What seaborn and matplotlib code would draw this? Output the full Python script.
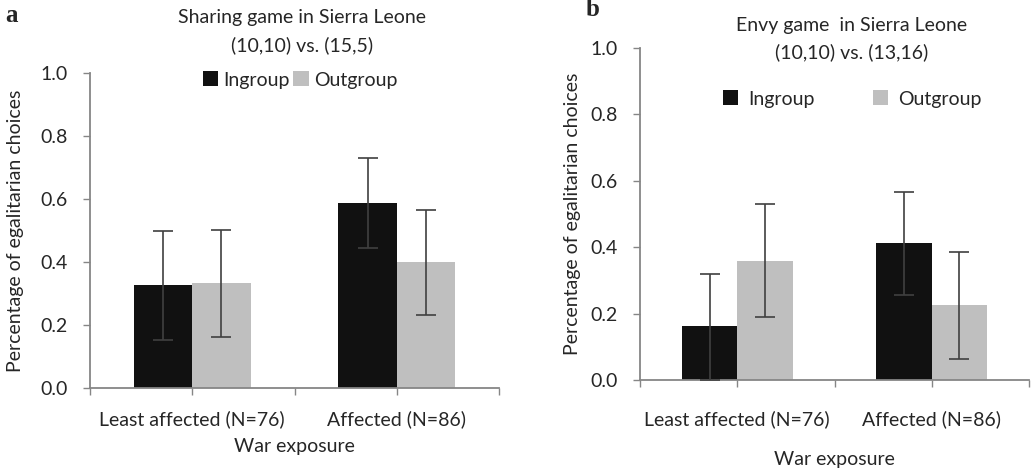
import matplotlib
matplotlib.use("Agg")
import matplotlib.pyplot as plt
import seaborn as sns
import pandas as pd
import numpy as np
from matplotlib.patches import Patch

sns.set_style("white")
plt.rcParams['font.family'] = ['Lato', 'DejaVu Sans']

categories = ["Least affected (N=76)", "Affected (N=86)"]
groups = ["Ingroup", "Outgroup"]

# Panel a: Sharing game
share_in = [0.326, 0.586]
share_out = [0.333, 0.400]
share_in_lo = [0.151, 0.444]
share_in_hi = [0.499, 0.730]
share_out_lo = [0.162, 0.233]
share_out_hi = [0.502, 0.565]

# Panel b: Envy game
envy_in = [0.163, 0.412]
envy_out = [0.359, 0.226]
envy_in_lo = [0.0, 0.257]
envy_in_hi = [0.320, 0.566]
envy_out_lo = [0.190, 0.062]
envy_out_hi = [0.529, 0.385]

yticks = [0.0, 0.2, 0.4, 0.6, 0.8, 1.0]
ytick_labels = ["0.0", "0.2", "0.4", "0.6", "0.8", "1.0"]

BLACK = "#111111"
GRAY = "#bfbfbf"
SPINE = "#868686"
ERR = "#404040"
FS = 14

W, H = 1033, 472
fig = plt.figure(figsize=(W / 100, H / 100), dpi=100)


def px_axes(left, top, right, bottom):
    return fig.add_axes([left / W, 1 - bottom / H, (right - left) / W, (bottom - top) / H])


def panel(ax, vin, vout, in_lo, in_hi, out_lo, out_hi, xpad):
    df = pd.DataFrame({
        "cat": categories * 2,
        "grp": [groups[0]] * 2 + [groups[1]] * 2,
        "val": list(vin) + list(vout),
    })
    sns.barplot(data=df, x="cat", y="val", hue="grp", order=categories,
                hue_order=groups, palette=[BLACK, GRAY], width=0.57, gap=0,
                errorbar=None, legend=False, ax=ax, saturation=1,
                edgecolor="none")
    lows = list(in_lo) + list(out_lo)
    highs = list(in_hi) + list(out_hi)
    vals = list(vin) + list(vout)
    for p, v, lo, hi in zip(ax.patches, vals, lows, highs):
        xc = p.get_x() + p.get_width() / 2
        ax.errorbar([xc], [v], yerr=[[v - lo], [hi - v]], fmt="none",
                    ecolor=ERR, elinewidth=1.2, capsize=7, capthick=1.2, zorder=5)
    ax.set_xlim(-0.5, 1.5)
    ax.set_ylim(0, 1.0)
    ax.set_yticks(yticks)
    ax.set_yticklabels(ytick_labels, fontsize=FS)
    ax.set_xticks([0, 1])
    ax.set_xticklabels(categories, fontsize=FS)
    ax.set_xticks([-0.5, 0.5, 1.5], minor=True)
    for s in ["top", "right"]:
        ax.spines[s].set_visible(False)
    for s in ["left", "bottom"]:
        ax.spines[s].set_color(SPINE)
        ax.spines[s].set_linewidth(1.3)
    ax.tick_params(axis="y", which="both", left=True, length=5, color=SPINE, width=1, pad=11)
    ax.tick_params(axis="x", which="both", bottom=True, length=5, color=SPINE, width=1, pad=xpad)
    ax.set_ylabel("Percentage of egalitarian choices", fontsize=FS)
    ax.set_xlabel("War exposure", fontsize=FS)


axa = px_axes(90, 73, 499, 388)
panel(axa, share_in, share_out, share_in_lo, share_in_hi, share_out_lo, share_out_hi, 11)
axa.yaxis.set_label_coords(-0.161, 0.5)
axa.xaxis.set_label_coords(0.5, -0.159)

axb = px_axes(640, 48, 1029, 380)
panel(axb, envy_in, envy_out, envy_in_lo, envy_in_hi, envy_out_lo, envy_out_hi, 17)
axb.yaxis.set_label_coords(-0.152, 0.5)
axb.xaxis.set_label_coords(0.5, -0.214)

# Titles
fig.text(302 / W, 1 - 17 / H, "Sharing game in Sierra Leone", ha="center", va="center", fontsize=FS)
fig.text(302 / W, 1 - 45 / H, "(10,10) vs. (15,5)", ha="center", va="center", fontsize=FS)
fig.text(852 / W, 1 - 25 / H, "Envy game  in Sierra Leone", ha="center", va="center", fontsize=FS)
fig.text(852 / W, 1 - 52 / H, "(10,10) vs. (13,16)", ha="center", va="center", fontsize=FS)

# Panel letters
fig.text(12 / W, 1 - 16 / H, "a", ha="center", va="center", fontsize=18,
         fontweight="bold", family="Liberation Serif")
fig.text(593 / W, 1 - 10 / H, "b", ha="center", va="center", fontsize=18,
         fontweight="bold", family="Liberation Serif")

handles = [Patch(facecolor=BLACK, edgecolor="none"), Patch(facecolor=GRAY, edgecolor="none")]
fig.legend(handles, groups, loc="center", bbox_to_anchor=(300 / W, 1 - 80 / H), ncol=2,
           frameon=False, fontsize=FS, handlelength=0.8, handleheight=0.8,
           handletextpad=0.25, columnspacing=0.2, borderpad=0)
fig.legend(handles, groups, loc="center", bbox_to_anchor=(852 / W, 1 - 99 / H), ncol=2,
           frameon=False, fontsize=FS, handlelength=0.8, handleheight=0.8,
           handletextpad=0.5, columnspacing=3.0, borderpad=0)

fig.savefig("out.png", dpi=100)
